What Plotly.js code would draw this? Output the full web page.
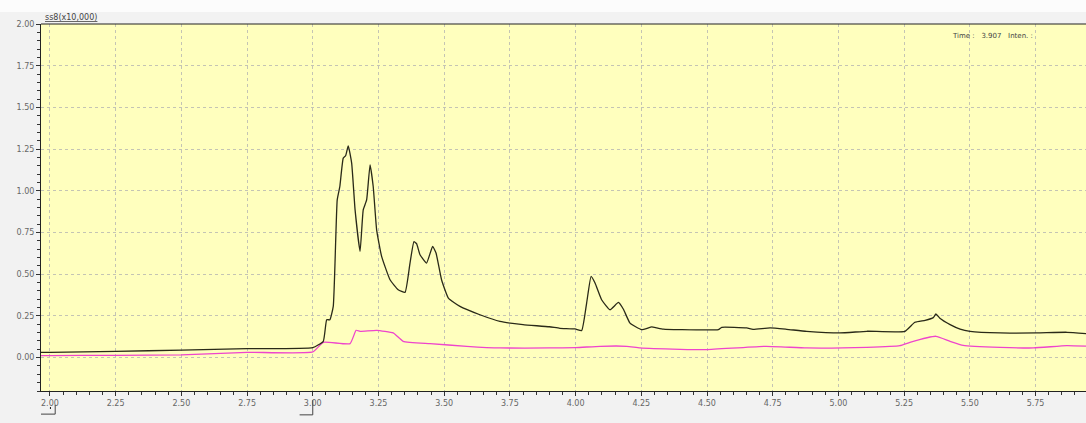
<!DOCTYPE html>
<html><head><meta charset="utf-8">
<script src="https://cdn.plot.ly/plotly-3.0.1.min.js"></script>
<style>html,body{margin:0;padding:0;background:#f2f2f2;}#chart{width:1086px;height:423px;}</style>
</head><body><div id="chart"></div>
<script>
// Chromatogram: retention time (min) vs intensity (x10,000)
const timeBlack = [1.96,2.00,2.25,2.50,2.75,3.00,3.04,3.053,3.065,3.078,3.093,3.103,3.116,3.125,3.135,3.148,3.161,3.18,3.192,3.205,3.218,3.23,3.243,3.262,3.294,3.325,3.351,3.37,3.385,3.395,3.408,3.433,3.456,3.469,3.49,3.516,3.56,3.636,3.712,3.80,3.90,3.94,3.998,4.023,4.042,4.059,4.074,4.099,4.131,4.163,4.182,4.207,4.251,4.29,4.309,4.334,4.397,4.543,4.556,4.651,4.675,4.74,4.803,4.879,5.006,5.108,5.253,5.291,5.33,5.361,5.371,5.386,5.425,5.463,5.501,5.615,5.754,5.869,5.95];
const intenBlack = [0.032,0.032,0.038,0.045,0.054,0.060,0.098,0.227,0.227,0.307,0.946,1.026,1.196,1.21,1.269,1.166,0.886,0.637,0.886,0.946,1.156,1.026,0.766,0.607,0.467,0.407,0.391,0.567,0.696,0.683,0.617,0.567,0.667,0.627,0.467,0.357,0.307,0.257,0.217,0.198,0.185,0.176,0.172,0.162,0.327,0.487,0.447,0.347,0.287,0.331,0.29,0.207,0.168,0.184,0.178,0.171,0.168,0.168,0.182,0.178,0.17,0.178,0.17,0.158,0.148,0.158,0.158,0.212,0.224,0.24,0.262,0.236,0.198,0.171,0.158,0.148,0.148,0.152,0.143];
const timePink = [1.96,2.00,2.25,2.50,2.75,3.00,3.04,3.142,3.165,3.18,3.243,3.306,3.344,3.446,3.586,3.712,3.90,4.00,4.093,4.195,4.245,4.398,4.498,4.726,4.879,5.108,5.234,5.272,5.371,5.425,5.475,5.615,5.742,5.869,5.95];
const intenPink = [0.012,0.012,0.014,0.016,0.032,0.034,0.092,0.084,0.164,0.158,0.164,0.148,0.098,0.084,0.068,0.058,0.058,0.060,0.068,0.068,0.058,0.050,0.048,0.068,0.058,0.062,0.072,0.092,0.128,0.098,0.074,0.062,0.058,0.072,0.068];

const traces = [
  {x: timePink, y: intenPink, mode:'lines', line:{color:'#ee44cc', width:1.3, shape:'spline', smoothing:0.4}, hoverinfo:'skip'},
  {x: timeBlack, y: intenBlack, mode:'lines', line:{color:'#2a2a18', width:1.3, shape:'spline', smoothing:0.4}, hoverinfo:'skip'}
];
const tickFont = {family:'DejaVu Sans, sans-serif', size:8, color:'#666'};
const layout = {
  width:1086, height:423,
  margin:{l:41, r:0, t:24, b:32},
  paper_bgcolor:'#f2f2f2', plot_bgcolor:'#ffffbe',
  showlegend:false,
  xaxis:{range:[1.966,5.942], tickmode:'linear', tick0:2, dtick:0.25, tickformat:'.2f',
    tickfont:tickFont, ticks:'outside', ticklen:4, tickcolor:'#333',
    showline:true, linecolor:'#222', linewidth:1, zeroline:false,
    showgrid:true, gridcolor:'#c4c4b4', griddash:'dot', gridwidth:1,
    minor:{dtick:0.05, ticks:'outside', ticklen:3, tickcolor:'#333', showgrid:false}},
  yaxis:{range:[-0.2,2.0], tickmode:'linear', tick0:0, dtick:0.25, tickformat:'.2f',
    tickfont:tickFont, ticks:'outside', ticklen:4, tickcolor:'#333',
    showline:true, linecolor:'#222', linewidth:1, zeroline:false,
    showgrid:true, gridcolor:'#c4c4b4', griddash:'dot', gridwidth:1,
    minor:{dtick:0.05, ticks:'outside', ticklen:3, tickcolor:'#333', showgrid:false}},
  shapes:[
    {type:'rect', xref:'paper', yref:'paper', x0:-0.05, x1:1.05, y0:1.033, y1:1.2, fillcolor:'#fcfcfc', line:{width:0}, layer:'below'},
    {type:'line', xref:'paper', yref:'paper', x0:0, x1:1, y0:1, y1:1, line:{color:'#222', width:1}},
    {type:'line', xref:'x', yref:'paper', x0:1.966, x1:2.02, y0:-0.063, y1:-0.063, line:{color:'#444', width:1}},
    {type:'line', xref:'x', yref:'paper', x0:2.02, x1:2.02, y0:-0.063, y1:-0.038, line:{color:'#444', width:1}},
    {type:'line', xref:'x', yref:'paper', x0:2.0, x1:2.004, y0:-0.046, y1:-0.046, line:{color:'#222', width:2}},
    {type:'line', xref:'x', yref:'paper', x0:2.95, x1:3.00, y0:-0.065, y1:-0.065, line:{color:'#444', width:1}},
    {type:'line', xref:'x', yref:'paper', x0:3.00, x1:3.00, y0:-0.065, y1:-0.025, line:{color:'#444', width:1}}
  ],
  annotations:[
    {xref:'paper', yref:'paper', x:0.002, y:1.0, xanchor:'left', yanchor:'bottom', text:'<u>ss8(x10,000)</u>', showarrow:false, font:{family:'DejaVu Sans, sans-serif', size:8, color:'#444'}},
    {xref:'paper', yref:'paper', x:0.87, y:0.985, xanchor:'left', yanchor:'top', text:'Time : &nbsp; 3.907 &nbsp; Inten. :', showarrow:false, font:{family:'DejaVu Sans, sans-serif', size:7, color:'#444'}}
  ]
};
Plotly.newPlot('chart', traces, layout, {displayModeBar:false, staticPlot:true});
</script></body></html>
